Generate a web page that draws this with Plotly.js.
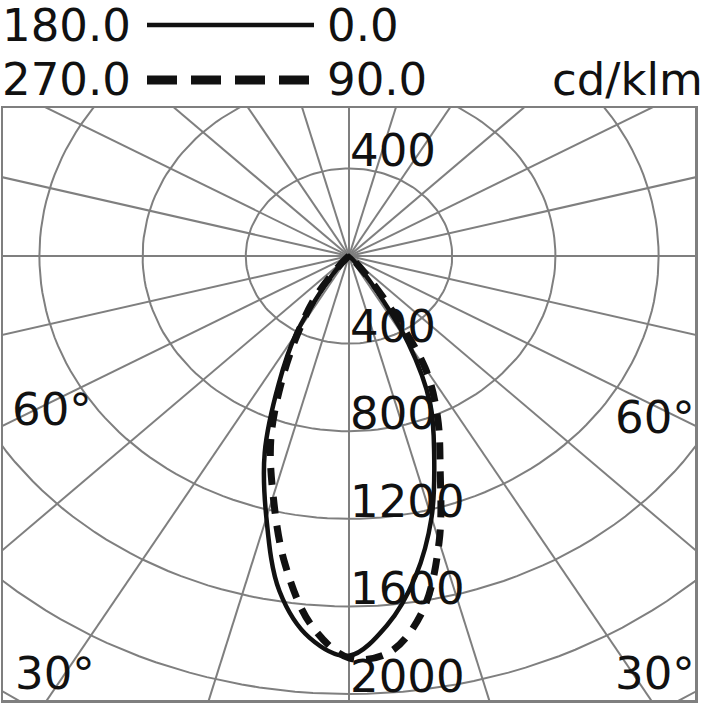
<!DOCTYPE html>
<html>
<head>
<meta charset="utf-8">
<script src="https://cdn.plot.ly/plotly-3.0.1.min.js"></script>
<style>
	html, body { margin: 0; padding: 0; background: #fff; }
	#crtPolar { width: 720px; height: 720px; }
</style>
</head>
<body>
<div id="crtPolar"></div>
<script>
// Gamma angles (degrees from straight down)
var gamma = [0, 5, 10, 15, 20, 25, 30, 35, 40, 45, 50, 55, 60, 65, 70, 75, 80, 85, 90];

// Intensity per plane in cd/klm
var c0 = [1825, 1692, 1485, 1236, 965, 745, 460, 150, 40, 10, 0, 0, 0, 0, 0, 0, 0, 0, 0];
var c180 = [1825, 1750, 1553, 1237, 955, 645, 410, 160, 55, 15, 0, 0, 0, 0, 0, 0, 0, 0, 0];
var c90 = [1835, 1815, 1645, 1350, 1033, 812, 590, 230, 60, 15, 0, 0, 0, 0, 0, 0, 0, 0, 0];
var c270 = [1835, 1690, 1428, 1135, 885, 605, 380, 220, 65, 15, 0, 0, 0, 0, 0, 0, 0, 0, 0];

// Grid
var ringValues = [400, 800, 1200, 1600, 2000, 2400, 2800];
var ringLabels = ["400", "800", "1200", "1600", "2000"];
var spokeStep = 15;

var gridColor = '#7f7f7f';
var rad = Math.PI / 180;

/**
 * Turn one C-plane pair into x/y points
 * left plane goes from 90 down to 0, right plane from 0 back up to 90
 * so the curve is one continuous line through the bottom
 */
var planePair = function(left, right) {
	var xs = [], ys = [];
	for (var i = gamma.length - 1; i >= 0; i--) {
		xs.push(-left[i] * Math.sin(gamma[i] * rad));
		ys.push(-left[i] * Math.cos(gamma[i] * rad));
	}
	for (var i = 1; i < gamma.length; i++) {
		xs.push(right[i] * Math.sin(gamma[i] * rad));
		ys.push(-right[i] * Math.cos(gamma[i] * rad));
	}
	return {x: xs, y: ys};
}

var data = [];

// rings
for (var i = 0; i < ringValues.length; i++) {
	var rx = [], ry = [];
	for (var t = 0; t <= 360; t += 2) {
		rx.push(ringValues[i] * Math.sin(t * rad));
		ry.push(ringValues[i] * Math.cos(t * rad));
	}
	data.push({x: rx, y: ry, mode: 'lines', line: {color: gridColor, width: 2}, hoverinfo: 'skip'});
}

// spokes
for (var a = 0; a < 360; a += spokeStep) {
	data.push({
		x: [0, 3000 * Math.sin(a * rad)],
		y: [0, 3000 * Math.cos(a * rad)],
		mode: 'lines',
		line: {color: gridColor, width: 2},
		hoverinfo: 'skip'
	});
}

var solid = planePair(c180, c0);
data.push({
	x: solid.x, y: solid.y, mode: 'lines', name: '0.0',
	line: {color: '#111', width: 4.5, shape: 'spline', smoothing: 1}
});

var dashed = planePair(c270, c90);
data.push({
	x: dashed.x, y: dashed.y, mode: 'lines', name: '90.0',
	line: {color: '#111', width: 7, shape: 'spline', smoothing: 1, dash: '17px,12px'}
});

// plot area in pixels: x 3..695, y 108..700
var mL = 3, mR = 25, mT = 108, mB = 20;
var pw = 720 - mL - mR, ph = 720 - mT - mB;
var px = function(v) { return (v - mL) / pw; };
var py = function(v) { return (720 - mB - v) / ph; };

var font = {family: 'DejaVu Sans, sans-serif', size: 45, color: '#111'};

var annotations = [];
var addText = function(text, x, y, anchor) {
	annotations.push({
		text: text, xref: 'paper', yref: 'paper', x: px(x), y: py(y),
		xanchor: anchor, yanchor: 'middle', showarrow: false, font: font
	});
}

// legend text
addText('180.0', 0, 25, 'left');
addText('0.0', 325, 25, 'left');
addText('270.0', 0, 80, 'left');
addText('90.0', 325, 80, 'left');
addText('cd/klm', 705, 80, 'right');

// angle labels
addText('60°', 10, 409, 'left');
addText('60°', 697, 417, 'right');
addText('30°', 13, 673, 'left');
addText('30°', 697, 673, 'right');

// ring labels along the vertical axis
annotations.push({
	text: ringLabels[0], x: 0, y: ringValues[0], xanchor: 'left', yanchor: 'bottom',
	xshift: -1, yshift: -11, showarrow: false, font: font
});
for (var i = 0; i < ringLabels.length; i++) {
	annotations.push({
		text: ringLabels[i], x: 0, y: -ringValues[i], xanchor: 'left', yanchor: 'bottom',
		xshift: -1, yshift: -11, showarrow: false, font: font
	});
}

var shapes = [
	{type: 'line', xref: 'paper', yref: 'paper', x0: px(147), x1: px(314), y0: py(25), y1: py(25),
		line: {color: '#111', width: 4.5}},
	{type: 'line', xref: 'paper', yref: 'paper', x0: px(147), x1: px(314), y0: py(80), y1: py(80),
		line: {color: '#111', width: 9, dash: '30px,14px'}}
];

var layout = {
	width: 720,
	height: 720,
	showlegend: false,
	paper_bgcolor: '#fff',
	plot_bgcolor: '#fff',
	margin: {l: mL, r: mR, t: mT, b: mB, pad: 0},
	xaxis: {
		range: [-1341, 1341], showgrid: false, zeroline: false, showticklabels: false,
		ticks: '', showline: true, mirror: true, linecolor: gridColor, linewidth: 2.5, fixedrange: true
	},
	yaxis: {
		range: [-2027, 676], showgrid: false, zeroline: false, showticklabels: false,
		ticks: '', showline: true, mirror: true, linecolor: gridColor, linewidth: 2.5, fixedrange: true
	},
	annotations: annotations,
	shapes: shapes
};

Plotly.newPlot('crtPolar', data, layout, {staticPlot: true});
</script>
</body>
</html>
